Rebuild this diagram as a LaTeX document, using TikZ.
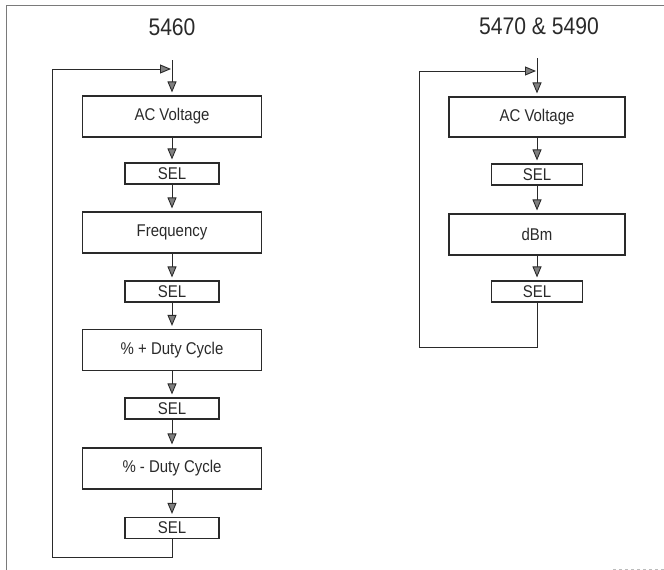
\documentclass[tikz,border=0pt]{standalone}
\usepackage{fontspec}
\setmainfont{Liberation Sans}[FakeStretch=0.88]
\usetikzlibrary{arrows.meta}
\definecolor{ink}{HTML}{2A2A2A}
\definecolor{frame}{HTML}{7A7A7A}
\tikzset{
  bigbox/.style={draw=ink, line width=1.1pt, minimum width=179pt, minimum height=41pt, inner sep=0pt, text=ink, font=\fontsize{17}{19}\selectfont},
  selbox/.style={draw=ink, line width=1.1pt, minimum width=94pt, minimum height=21pt, inner sep=0pt, text=ink, font=\fontsize{17}{19}\selectfont},
  flow/.style={draw=ink, line width=0.9pt, -{Triangle[width=9pt,length=11pt,fill=black!50]}, shorten >=3pt},
  plain/.style={draw=ink, line width=0.9pt},
  title/.style={text=ink, font=\fontsize{24}{26}\selectfont}
}
\begin{document}
\begin{tikzpicture}[x=1pt,y=-1pt]
\useasboundingbox (0,0) rectangle (664,570);
% frame
\draw[frame, line width=0.9pt] (664,5) -- (6,5) -- (6,570);
\draw[frame!50, line width=0.6pt, dashed] (613,569) -- (664,569);

% ---------- 5460 ----------
\node[title] (t1) at (172,27) {5460};
\node[bigbox] (a1) at (172,116.5) {AC Voltage};
\node[selbox] (s1) at (172,173.5) {SEL};
\node[bigbox] (a2) at (172,232.5) {Frequency};
\node[selbox] (s2) at (172,291.5) {SEL};
\node[bigbox] (a3) at (172,350) {\% + Duty Cycle};
\node[selbox] (s3) at (172,408.5) {SEL};
\node[bigbox] (a4) at (172,468.5) {\% - Duty Cycle};
\node[selbox] (s4) at (172,528) {SEL};
\coordinate (in1) at (172,60);
\coordinate (j1) at (172,69);
\coordinate (b1) at (172,557);
\coordinate (bl1) at (52,557);
\coordinate (tl1) at (52,69);
\draw[flow] (in1) -- (a1);
\draw[flow] (a1) -- (s1);
\draw[flow] (s1) -- (a2);
\draw[flow] (a2) -- (s2);
\draw[flow] (s2) -- (a3);
\draw[flow] (a3) -- (s3);
\draw[flow] (s3) -- (a4);
\draw[flow] (a4) -- (s4);
\draw[plain] (s4.south) -- (b1) -- (bl1) -- (tl1);
\draw[flow, shorten >=1pt] (tl1) -- (j1);

% ---------- 5470 & 5490 ----------
\node[title] (t2) at (539,26) {5470 \& 5490};
\node[bigbox, minimum width=176pt, minimum height=40pt] (c1) at (537,117) {AC Voltage};
\node[selbox, minimum width=91pt] (r1) at (537,174.5) {SEL};
\node[bigbox, minimum width=176pt] (c2) at (537,234.5) {dBm};
\node[selbox, minimum width=91pt] (r2) at (537,291.5) {SEL};
\coordinate (in2) at (537,58);
\coordinate (j2) at (537,71);
\coordinate (b2) at (537,347);
\coordinate (bl2) at (419,347);
\coordinate (tl2) at (419,71);
\draw[flow] (in2) -- (c1);
\draw[flow] (c1) -- (r1);
\draw[flow] (r1) -- (c2);
\draw[flow] (c2) -- (r2);
\draw[plain] (r2.south) -- (b2) -- (bl2) -- (tl2);
\draw[flow, shorten >=1pt] (tl2) -- (j2);
\end{tikzpicture}
\end{document}
